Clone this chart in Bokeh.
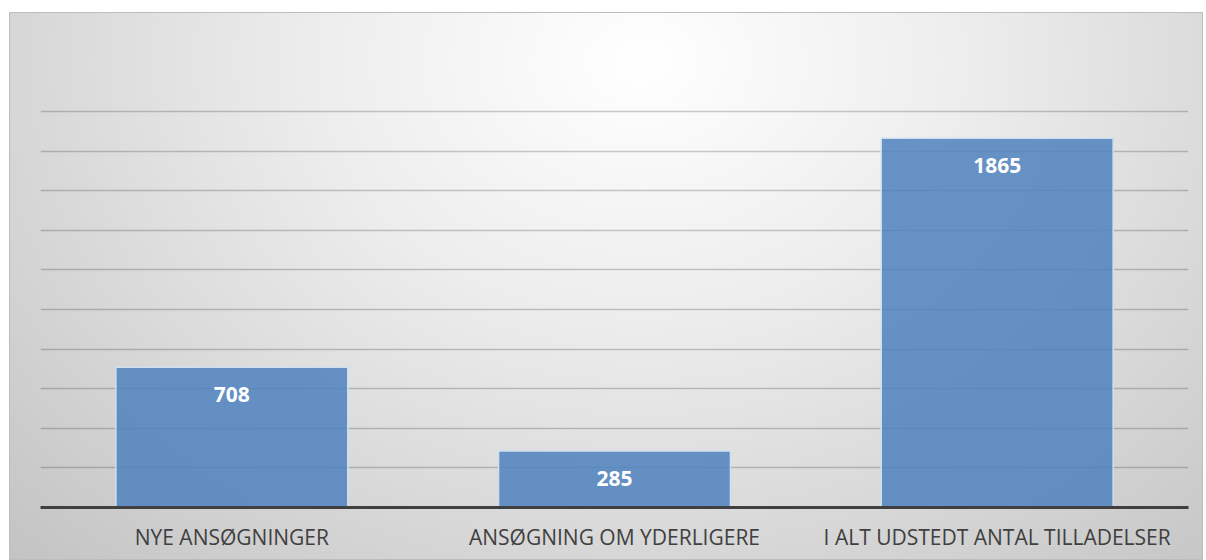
from bokeh.plotting import figure
from bokeh.models import ColumnDataSource, FactorRange, Range1d, FixedTicker, LabelSet, Label
from bokeh.core.properties import value
from bokeh.embed import file_html
from bokeh.resources import INLINE

title_text = "1. JANUAR 2021 - 31. DECEMBER 2021"
categories = ["NYE ANSØGNINGER", "ANSØGNING OM YDERLIGERE", "I ALT UDSTEDT ANTAL TILLADELSER"]
values = [708, 285, 1865]
y_ticks = [0, 200, 400, 600, 800, 1000, 1200, 1400, 1600, 1800, 2000]

source = ColumnDataSource(data=dict(cat=categories, val=values, lbl=[str(v) for v in values]))

p = figure(
    x_range=FactorRange(*categories, range_padding=0),
    y_range=Range1d(0, 2010),
    width=1194, height=548,
    output_backend="svg", toolbar_location=None,
    min_border_left=31, min_border_right=15, min_border_top=97, min_border_bottom=53,
)
p.margin = (12, 0, 0, 9)
p.styles = {
    "background": "radial-gradient(ellipse farthest-corner at 53% 9%, #ffffff 0%, #ededed 36%, #c3c3c3 100%)",
    "box-shadow": "inset 0 0 0 1px #bdbdbd",
}
p.background_fill_alpha = 0
p.border_fill_alpha = 0
p.outline_line_color = None

# Title drawn as a label in screen units, measured from the frame's bottom-left corner
p.add_layout(Label(x=574, y=451, x_units="screen", y_units="screen", text=title_text,
                   text_align="center", text_baseline="middle",
                   text_font="Open Sans", text_font_style="bold",
                   text_font_size="32.8px", text_color="#404040"))

p.vbar(x="cat", top="val", width=0.606, source=source,
       fill_color="#4f81bd", fill_alpha=0.85, line_color="#d0dff0", line_width=1.5)

labels = LabelSet(x="cat", y="val", text="lbl", source=source, y_offset=-27,
                  text_align="center", text_baseline="middle",
                  text_font=value("Open Sans"), text_font_style="bold",
                  text_font_size="21px", text_color="white")
p.add_layout(labels)

p.yaxis.visible = False
p.ygrid.ticker = FixedTicker(ticks=y_ticks)
p.ygrid.grid_line_color = "black"
p.ygrid.grid_line_alpha = 0.2
p.ygrid.grid_line_width = 1.5
p.xgrid.grid_line_color = None

p.xaxis.axis_line_color = "#404040"
p.xaxis.axis_line_width = 3
p.xaxis.major_tick_line_color = None
p.xaxis.minor_tick_line_color = None
p.xaxis.major_label_text_font = "Open Sans"
p.xaxis.major_label_text_font_size = "21px"
p.xaxis.major_label_text_color = "#404040"
p.xaxis.major_label_standoff = 9

open("out.html", "w").write(file_html(p, INLINE))
